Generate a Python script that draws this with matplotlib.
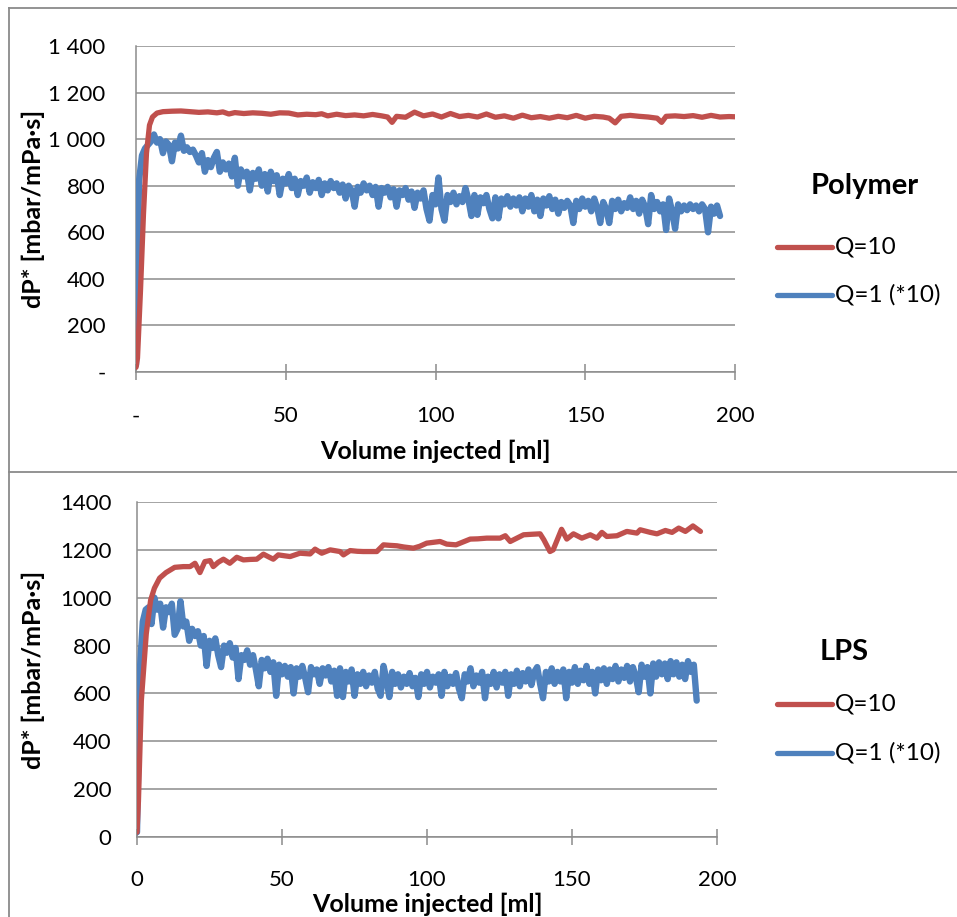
import numpy as np
import matplotlib
matplotlib.use("Agg")
import matplotlib.pyplot as plt
from matplotlib.lines import Line2D

#%% data (dP* in mbar/mPa.s, volume in ml)

# Polymer, Q=10
vol_q10_poly = [0, 0.5, 1.5, 2.5, 3.5, 4.5, 5.5, 7, 9, 12,
                15, 18, 21, 24, 27, 29, 31, 33, 36, 39,
                42, 45, 48, 51, 54, 57, 60, 62, 64, 67,
                70, 73, 76, 79, 82, 84, 85.5, 87, 90, 93,
                96, 99, 102, 105, 108, 111, 114, 117, 120, 123,
                126, 129, 132, 135, 138, 141, 144, 147, 150, 153,
                156, 158, 160, 162, 165, 168, 171, 174, 175.5, 177,
                180, 183, 186, 189, 192, 195, 198, 200]
dp_q10_poly = [20, 60, 350, 680, 940, 1060, 1095, 1112, 1118, 1120,
               1121, 1118, 1115, 1117, 1113, 1117, 1108, 1114, 1110, 1113,
               1111, 1107, 1113, 1112, 1104, 1107, 1105, 1109, 1100, 1107,
               1101, 1104, 1100, 1106, 1100, 1095, 1072, 1098, 1094, 1116,
               1100, 1108, 1095, 1110, 1097, 1102, 1095, 1108, 1094, 1100,
               1090, 1103, 1092, 1097, 1090, 1098, 1092, 1102, 1090, 1098,
               1095, 1090, 1070, 1098, 1102, 1098, 1095, 1090, 1072, 1098,
               1100, 1097, 1101, 1094, 1102, 1095, 1097, 1096]

# Polymer, Q=1 (*10), logged every 1 ml
dp_q1_poly = [30, 820, 930, 960, 975, 990, 1020, 985, 1000, 940,
              990, 975, 905, 985, 960, 1015, 950, 965, 945, 955,
              930, 900, 940, 860, 910, 880, 920, 945, 860, 900,
              870, 895, 840, 920, 800, 870, 840, 860, 780, 855,
              830, 870, 800, 850, 775, 860, 820, 845, 760, 830,
              810, 850, 790, 830, 760, 820, 800, 835, 770, 815,
              790, 825, 760, 810, 780, 820, 790, 810, 770, 805,
              745, 800, 780, 710, 795, 770, 810, 780, 800, 760,
              795, 710, 790, 770, 795, 750, 785, 710, 780, 760,
              790, 740, 775, 705, 770, 745, 780, 700, 650, 760,
              720, 835, 700, 650, 760, 730, 770, 720, 755, 730,
              790, 740, 670, 760, 675, 750, 725, 760, 700, 660,
              750, 660, 745, 720, 755, 710, 745, 715, 750, 690,
              745, 710, 760, 690, 740, 670, 745, 715, 755, 700,
              740, 680, 730, 705, 735, 715, 640, 735, 700, 745,
              710, 735, 690, 745, 705, 640, 730, 700, 640, 735,
              700, 740, 690, 725, 705, 750, 700, 735, 680, 740,
              710, 635, 760, 700, 730, 690, 720, 610, 745, 690,
              615, 720, 690, 715, 695, 720, 700, 715, 690, 720,
              700, 600, 710, 680, 715, 670]
vol_q1_poly = np.arange(len(dp_q1_poly)) * 1.0

# LPS, Q=10
vol_q10_lps = [0, 0.5, 1.5, 3.2, 4.7, 6, 7.8, 10, 13, 16,
               18.3, 20, 21.7, 23.4, 25.2, 26.3, 28, 29.8, 32, 34.4,
               36.7, 39, 41.3, 43.6, 45.5, 47, 48.7, 51, 52.8, 56.2,
               59.7, 61.4, 63.7, 66.6, 70, 71.2, 73.5, 76, 78, 82.7,
               85, 87, 89.6, 92, 95.3, 97.5, 99.9, 104.5, 106.8, 110,
               114.9, 117.5, 120.6, 125.2, 127, 128.7, 133.3, 136, 139, 140.3,
               142.4, 143.5, 146.4, 148.2, 150.5, 153.4, 156.3, 158.6, 160.3, 162,
               165.5, 168.9, 172.4, 173.5, 177, 179.3, 182.2, 184.5, 186.8, 189.1,
               191.7, 194.3]
dp_q10_lps = [20, 150, 570, 850, 990, 1040, 1082, 1105, 1127, 1130,
              1130, 1144, 1105, 1151, 1155, 1130, 1148, 1161, 1144, 1169,
              1158, 1160, 1161, 1182, 1170, 1161, 1179, 1175, 1172, 1186,
              1183, 1203, 1186, 1200, 1193, 1179, 1197, 1194, 1193, 1193,
              1221, 1219, 1217, 1212, 1207, 1215, 1228, 1235, 1224, 1221,
              1245, 1246, 1249, 1249, 1259, 1235, 1263, 1265, 1267, 1242,
              1193, 1200, 1286, 1245, 1267, 1249, 1263, 1249, 1273, 1256,
              1259, 1277, 1270, 1284, 1273, 1267, 1281, 1273, 1291, 1277,
              1300, 1277]

# LPS, Q=1 (*10), logged every 1 ml
dp_q1_lps = [20, 700, 900, 950, 960, 890, 1000, 950, 975, 875,
             960, 940, 975, 845, 870, 985, 880, 900, 820, 870,
             840, 860, 800, 840, 715, 820, 790, 830, 760, 710,
             800, 770, 810, 750, 790, 660, 760, 740, 780, 720,
             760, 700, 630, 740, 705, 745, 690, 730, 590, 720,
             680, 715, 670, 710, 600, 705, 670, 715, 665, 605,
             710, 680, 700, 640, 705, 675, 710, 650, 695, 590,
             705, 585, 690, 650, 700, 590, 680, 640, 690, 630,
             675, 645, 690, 620, 590, 715, 660, 585, 690, 640,
             680, 625, 670, 640, 685, 630, 665, 585, 680, 640,
             690, 625, 670, 645, 680, 590, 690, 630, 670, 640,
             685, 620, 580, 680, 650, 705, 630, 675, 645, 690,
             580, 670, 640, 690, 625, 680, 645, 690, 590, 680,
             640, 695, 630, 685, 650, 700, 635, 690, 710, 640,
             580, 690, 650, 705, 640, 690, 650, 700, 580, 690,
             645, 710, 640, 695, 655, 715, 640, 690, 600, 700,
             655, 705, 640, 700, 660, 715, 650, 700, 665, 715,
             650, 710, 670, 605, 720, 670, 710, 600, 725, 670,
             730, 680, 725, 660, 735, 680, 730, 670, 720, 660,
             735, 690, 720, 570]
vol_q1_lps = np.arange(len(dp_q1_lps)) * 1.0

x_ticks = [0, 50, 100, 150, 200]
y_ticks = [0, 200, 400, 600, 800, 1000, 1200, 1400]
x_labels_poly = ['-', '50', '100', '150', '200']
y_labels_poly = ['-', '200', '400', '600', '800', '1 000', '1 200', '1 400']
x_labels_lps = ['0', '50', '100', '150', '200']
y_labels_lps = ['0', '200', '400', '600', '800', '1000', '1200', '1400']

#%% style
RED = '#C0504D'
BLUE = '#4F81BD'
GRID = '#8C8C8C'
FONT = 'Lato'
W, H = 957, 917

plt.rcParams['font.family'] = [FONT, 'DejaVu Sans']


def fx(x):
    return x / W


def fy(y):
    return 1 - y / H


def make_panel(fig, box, vol10, dp10, vol1, dp1, xlab, ylab, ypad, xpad):
    left, top, right, bottom = box
    ax = fig.add_axes([fx(left), fy(bottom), fx(right - left), (bottom - top) / H])
    ax.plot(vol1, dp1, color=BLUE, lw=4.6, solid_joinstyle='round',
            solid_capstyle='round', zorder=3)
    ax.plot(vol10, dp10, color=RED, lw=3.8, solid_joinstyle='round',
            solid_capstyle='round', zorder=4)
    ax.set_xlim(0, 200)
    ax.set_ylim(0, 1400)
    ax.set_xticks(x_ticks)
    ax.set_xticklabels(xlab)
    ax.set_yticks(y_ticks)
    ax.set_yticklabels(ylab)
    ax.yaxis.grid(True, color=GRID, lw=1.1)
    ax.set_axisbelow(True)
    for s in ['top', 'right']:
        ax.spines[s].set_visible(False)
    for s in ['left', 'bottom']:
        ax.spines[s].set_color(GRID)
        ax.spines[s].set_linewidth(1.1)
    ax.tick_params(axis='x', direction='inout', length=11.5, width=1.1,
                   color=GRID, pad=xpad, labelsize=16)
    ax.tick_params(axis='y', length=0, pad=ypad, labelsize=16)
    ax.patch.set_alpha(0)
    return ax


def legend(fig, title, tx, ty, y_red, y_blue):
    fig.text(fx(tx), fy(ty), title, ha='center', va='center',
             fontsize=21, fontweight='bold')
    for yy, col, lab in [(y_red, RED, 'Q=10'), (y_blue, BLUE, 'Q=1 (*10)')]:
        fig.add_artist(Line2D([fx(777), fx(832)], [fy(yy), fy(yy)], color=col,
                              lw=3.8, solid_capstyle='round',
                              transform=fig.transFigure))
        fig.text(fx(835), fy(yy), lab, ha='left', va='center', fontsize=17.5)


#%% figure
fig = plt.figure(figsize=(W / 100, H / 100), dpi=100)

# chart frames
frame = dict(color='#8A8A8A', lw=1.3, transform=fig.transFigure)
fig.add_artist(Line2D([fx(9), fx(957)], [fy(8), fy(8)], **frame))
fig.add_artist(Line2D([fx(9), fx(9)], [fy(8), fy(917)], **frame))
fig.add_artist(Line2D([fx(9), fx(957)], [fy(472), fy(472)], **frame))

make_panel(fig, (136, 46, 735, 372), vol_q10_poly, dp_q10_poly,
           vol_q1_poly, dp_q1_poly, x_labels_poly, y_labels_poly, 22, 19)
make_panel(fig, (137, 502, 717, 837), vol_q10_lps, dp_q10_lps,
           vol_q1_lps, dp_q1_lps, x_labels_lps, y_labels_lps, 18.5, 18.2)

# axis titles
fig.text(fx(435.5), fy(451), 'Volume injected [ml]', ha='center', va='center',
         fontsize=18, fontweight='bold')
fig.text(fx(33), fy(209), 'dP* [mbar/mPa·s]', ha='center', va='center',
         rotation=90, fontsize=18, fontweight='bold')
fig.text(fx(427), fy(904), 'Volume injected [ml]', ha='center', va='center',
         fontsize=18, fontweight='bold')
fig.text(fx(33), fy(670), 'dP* [mbar/mPa·s]', ha='center', va='center',
         rotation=90, fontsize=18, fontweight='bold')

legend(fig, 'Polymer', 865, 186, 247, 295)
legend(fig, 'LPS', 844, 652, 704, 753)

fig.savefig('out.png', dpi=100)
